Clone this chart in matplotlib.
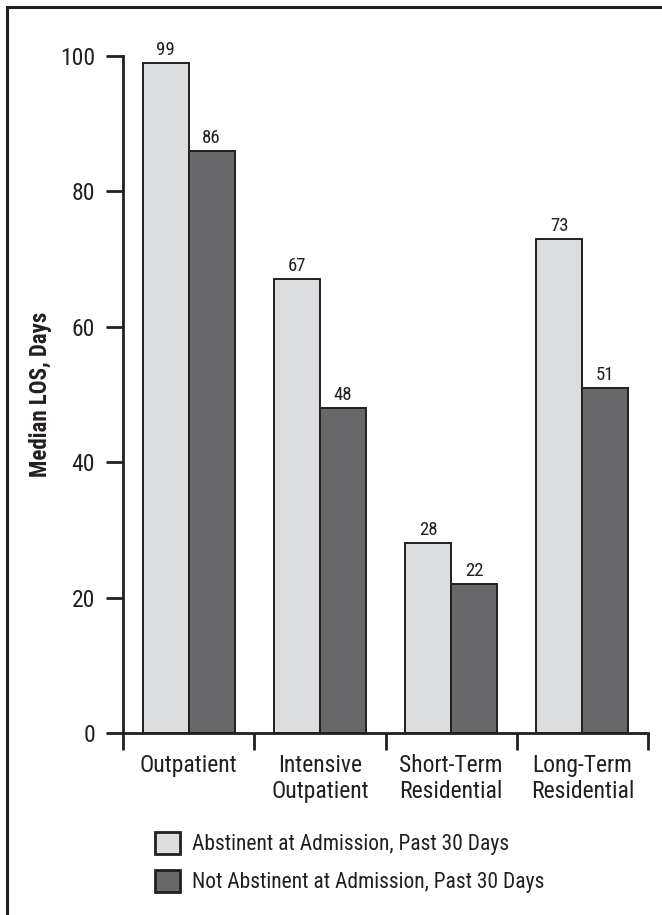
import matplotlib
matplotlib.use("Agg")
import matplotlib.pyplot as plt
from matplotlib.lines import Line2D
from matplotlib.patches import Patch
import numpy as np

plt.rcParams['font.family'] = ['Liberation Sans Narrow', 'DejaVu Sans Condensed', 'Roboto Condensed', 'Roboto', 'DejaVu Sans']

categories = ["Outpatient", "Intensive\nOutpatient", "Short-Term\nResidential", "Long-Term\nResidential"]
abstinent = [99, 67, 28, 73]
not_abstinent = [86, 48, 22, 51]
series_names = ["Abstinent at Admission, Past 30 Days", "Not Abstinent at Admission, Past 30 Days"]
yticks = [0, 20, 40, 60, 80, 100]

TXT = "#231f20"
LIGHT = "#dcdddf"
DARK = "#68686b"
EDGE = "#231f20"

W, H = 662, 915
fig = plt.figure(figsize=(W/100, H/100), dpi=100)
ax = fig.add_axes([123/W, 1-733/H, (648-123)/W, (733-56)/H])

x = np.arange(len(categories))
bw = 0.35
b1 = ax.bar(x - bw/2, abstinent, bw, color=LIGHT, edgecolor=EDGE, linewidth=1.4, zorder=2)
b2 = ax.bar(x + bw/2, not_abstinent, bw, color=DARK, edgecolor=EDGE, linewidth=1.4, zorder=2)
for bars, vals in ((b1, abstinent), (b2, not_abstinent)):
    for r, v in zip(bars, vals):
        ax.annotate(str(v), (r.get_x()+r.get_width()/2, v), xytext=(0, 3),
                    textcoords="offset points", ha="center", va="bottom",
                    fontsize=13.5, color=TXT)

ax.set_xlim(-0.5, len(categories)-0.5)
ax.set_ylim(0, 100)
ax.set_yticks(yticks)
ax.set_yticklabels([str(t) for t in yticks], fontsize=17, color=TXT)
ax.set_xticks(np.arange(len(categories)+1) - 0.5)
ax.set_xticklabels([])
ax.set_xticks(x, minor=True)
ax.set_xticklabels(categories, minor=True, fontsize=17, color=TXT, linespacing=1.15)
ax.tick_params(axis='x', which='major', direction='out', length=12, width=2, color=EDGE)
ax.tick_params(axis='x', which='minor', length=0, pad=15)
ax.tick_params(axis='y', direction='out', length=12, width=2, color=EDGE, pad=8)
for s in ("top", "right"):
    ax.spines[s].set_visible(False)
for s in ("left", "bottom"):
    ax.spines[s].set_linewidth(2)
    ax.spines[s].set_color(EDGE)
ax.set_ylabel("Median LOS, Days", fontsize=16.5, fontweight="bold", color=TXT, labelpad=6)

# legend
handles = [Patch(facecolor=LIGHT, edgecolor=EDGE, linewidth=2),
           Patch(facecolor=DARK, edgecolor=EDGE, linewidth=2)]
fig.legend(handles, series_names, loc="upper left", bbox_to_anchor=(136/W, 1-813/H),
           frameon=False, fontsize=15.5, handlelength=1.15, handleheight=1.15,
           handletextpad=0.55, labelspacing=0.7, labelcolor=TXT)

# frame lines (left and top only)
fig.add_artist(Line2D([7/W, 7/W], [0, 1-7/H], transform=fig.transFigure, color="#231f20", lw=2.2))
fig.add_artist(Line2D([7/W, 1], [1-7/H, 1-7/H], transform=fig.transFigure, color="#231f20", lw=2.2))

fig.savefig("out.png", dpi=100)
